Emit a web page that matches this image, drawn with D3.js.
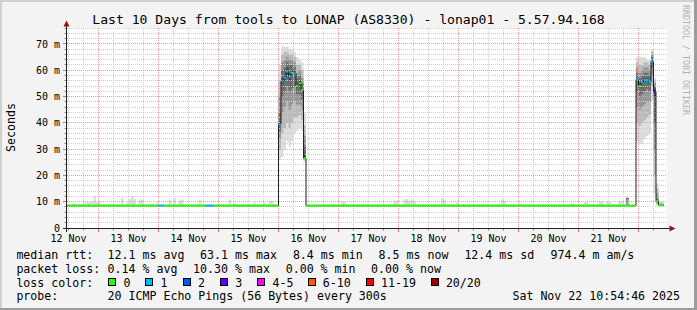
<!DOCTYPE html>
<html>
<head>
<meta charset="utf-8">
<script src="https://cdn.jsdelivr.net/npm/d3@7"></script>
<style>
body { margin: 0; background: #f3f3f3; }
svg text { font-family: "DejaVu Sans Mono", monospace; fill: #000; }
</style>
</head>
<body>
<script>
var width = 697,
    height = 310;
var plot = { left: 67, right: 667, top: 28, bottom: 228 };
var hour = 3600e3;

// ---- data (ms) ----
// the 10 day view is hourly; pings are kept as 10 sorted values per hour
var baseMedian = 8.5;
var basePings = [8.2, 8.3, 8.4, 8.4, 8.5, 8.5, 8.6, 8.7, 8.8, 8.9];
var firstHour = "2025-11-12T11:00Z",
    lastHour = "2025-11-22T09:00Z";

// little smoke bumps on the flat part: [day, hour, highest ping]
var bumps = [
    [12, 13, 9.2], [12, 14, 9.2], [12, 16, 9.3], [12, 17, 9.3], [12, 18, 9.9], [12, 19, 9.9],
    [12, 20, 9.9], [12, 21, 9.9], [12, 22, 12.2], [12, 23, 10.0], [13, 0, 9.9],
    [13, 4, 9.2], [13, 5, 9.2], [13, 9, 11.4], [13, 11, 9.6], [13, 12, 11.0], [13, 13, 12.2],
    [13, 14, 11.0], [13, 16, 10.8], [13, 17, 10.8], [13, 20, 9.2], [13, 21, 9.2], [13, 23, 9.6],
    [14, 4, 10.8], [14, 6, 11.4], [14, 8, 10.6], [14, 9, 10.8], [14, 11, 9.2], [14, 14, 9.2],
    [14, 16, 10.8], [14, 18, 9.2], [15, 1, 9.2], [15, 4, 10.8], [15, 6, 9.6], [15, 11, 9.2],
    [15, 14, 9.6], [15, 18, 9.6], [15, 20, 10.5], [15, 21, 10.5],
    [17, 1, 10.0], [17, 2, 10.0], [17, 22, 10.5], [17, 23, 10.5], [18, 2, 10.8], [18, 3, 11.0],
    [18, 4, 10.5], [18, 5, 10.8], [18, 6, 10.2], [18, 17, 11.4], [18, 18, 10.8], [18, 23, 9.8],
    [19, 17, 11.0], [19, 18, 10.5], [20, 0, 9.6], [20, 21, 9.5], [21, 2, 10.0], [21, 3, 10.0],
    [21, 8, 10.2], [21, 9, 10.2], [21, 11, 10.0], [21, 12, 10.0], [21, 16, 10.3], [21, 17, 10.3]
];
// one hour where most pings were slow but the median stayed low
var slowHours = [[21, 19, [8.4, 8.5, 8.5, 10.8, 11.2, 11.3, 11.4, 11.5, 11.5, 11.5]]];
// hours on the flat line with lost pings: [day, hour, lost of 20]
var lossHours = [[14, 0, 1], [14, 1, 1], [14, 19, 1], [14, 20, 1], [14, 21, 1]];

// episode 1, from 16 Nov 00:00
var ep1Start = "2025-11-16T00:00Z";
var ep1Median = [39.4, 56.0, 57.2, 59.5, 57.6, 59.0, 58.8, 54.1, 55.0, 52.5, 26.5];
var ep1Loss = [1, 1, 1, 1, 1, 0, 1, 0, 0, 0, 0];
var ep1Pings = [
    [26, 30, 34, 37, 39, 40, 44, 50, 56, 62],
    [27, 36, 44, 50, 55, 57, 60, 63, 66, 69],
    [30, 38, 46, 52, 56, 58, 61, 64, 67, 69],
    [33, 40, 48, 54, 58, 61, 63, 65, 67, 69],
    [31, 38, 45, 52, 56, 59, 62, 64, 66, 68],
    [33, 40, 47, 53, 58, 60, 62, 64, 66, 68],
    [36, 42, 48, 54, 58, 59.5, 61, 63, 65, 67],
    [37, 42, 47, 51, 53.5, 55, 57, 59, 62, 65],
    [38, 43, 47, 51, 54, 56, 58, 60, 62, 64],
    [37, 41, 45, 49, 52, 53, 55, 57, 60, 63],
    [25, 26, 26, 26.5, 26.5, 28, 31, 35, 39, 44]
];

// episode 2, from 21 Nov 23:00
var ep2Start = "2025-11-21T23:00Z";
var ep2Median = [56.5, 54.0, 55.4, 56.3, 56.3, 55.6, 63.3, 51.9, 10.2, 8.7, 8.7];
var ep2Loss = [1, 0, 1, 1, 1, 1, 1, 3, 0, 0, 0];
var ep2Pings = [
    [33, 40, 46, 52, 56, 57, 59, 61, 63, 65],
    [32, 39, 45, 50, 53.5, 55, 57, 59, 62, 65],
    [32, 40, 46, 51, 55, 56, 58, 60, 62, 65],
    [34, 41, 47, 52, 56, 57, 59, 61, 63, 65],
    [35, 42, 48, 53, 56, 57, 59, 61, 63, 64],
    [36, 43, 48, 52, 55, 56, 58, 60, 62, 64],
    [48, 54, 58, 61, 63, 64, 65, 66, 67, 68],
    [13, 20, 30, 40, 50, 53, 54, 55, 56, 57],
    [8.5, 9, 9.5, 10, 10.2, 10.5, 11, 13, 15, 17],
    [8.3, 8.5, 8.6, 8.7, 8.7, 8.8, 8.9, 9, 9.5, 10],
    [8.3, 8.5, 8.6, 8.7, 8.7, 8.8, 8.9, 9, 9.5, 10]
];

var yTicks = [0, 10, 20, 30, 40, 50, 60, 70];
var lossLabels = ["0", "1", "2", "3", "4-5", "6-10", "11-19", "20/20"];
var lossUpper = [0, 1, 2, 3, 5, 10, 19, 20];
var lossColors = ["#26ff00", "#00b8ff", "#0059ff", "#5e00ff", "#ff00ff", "#ff5a00", "#ff0000", "#a10000"];
var rttStats = ["12.1 ms avg", "63.1 ms max", "8.4 ms min", "8.5 ms now", "12.4 ms sd", "974.4 m am/s"];
var lossStats = ["0.14 % avg", "10.30 % max", "0.00 % min", "0.00 % now"];
var probeText = "20 ICMP Echo Pings (56 Bytes) every 300s";
var stamp = "Sat Nov 22 10:54:46 2025";
var title = "Last 10 Days from tools to LONAP (AS8330) - lonap01 - 5.57.94.168";

// ---- build hourly slots ----
var t0 = Date.parse(firstHour),
    t1 = Date.parse(lastHour);
var slots = [];
for (var t = t0; t <= t1; t += hour) {
    slots.push({ t: t, median: baseMedian, loss: 0, pings: basePings.slice() });
}
function slotAt(ms) { return slots[Math.round((ms - t0) / hour)]; }
function dh(d, h) { return Date.UTC(2025, 10, d, h); }
bumps.forEach(function (b) { slotAt(dh(b[0], b[1])).pings[9] = b[2]; });
slowHours.forEach(function (b) { slotAt(dh(b[0], b[1])).pings = b[2]; });
lossHours.forEach(function (b) { slotAt(dh(b[0], b[1])).loss = b[2]; });
function episode(startIso, med, loss, pings) {
    var s0 = Date.parse(startIso);
    med.forEach(function (m, i) {
        var s = slotAt(s0 + i * hour);
        s.median = m;
        s.loss = loss[i];
        s.pings = pings[i];
    });
}
episode(ep1Start, ep1Median, ep1Loss, ep1Pings);
episode(ep2Start, ep2Median, ep2Loss, ep2Pings);

function lossClass(n) {
    for (var i = 0; i < lossUpper.length; i++) if (n <= lossUpper[i]) return i;
    return lossUpper.length - 1;
}

// ---- scales ----
var start = Date.UTC(2025, 10, 12, 11, 24),
    end = Date.UTC(2025, 10, 22, 11, 24);
var x = d3.scaleUtc().domain([start, end]).range([plot.left, plot.right]);
var y = d3.scaleLinear().domain([0, 76.07]).range([plot.bottom, plot.top]);

var svg = d3.select("body").append("svg")
    .attr("width", width)
    .attr("height", height)
    .style("display", "block");

// background + shaded frame
svg.append("rect").attr("width", width).attr("height", height).attr("fill", "#f3f3f3");
svg.append("rect").attr("width", width).attr("height", 2).attr("fill", "#d0d0d0");
svg.append("rect").attr("width", 2).attr("height", height).attr("fill", "#d0d0d0");
svg.append("rect").attr("x", width - 3).attr("width", 3).attr("height", height).attr("fill", "#9c9c9c");
svg.append("rect").attr("y", height - 2).attr("width", width).attr("height", 2).attr("fill", "#9c9c9c");

svg.append("rect")
    .attr("x", plot.left).attr("y", plot.top)
    .attr("width", plot.right - plot.left).attr("height", plot.bottom - plot.top)
    .attr("fill", "#fff");

svg.append("clipPath").attr("id", "clip")
    .append("rect")
    .attr("x", plot.left).attr("y", plot.top)
    .attr("width", plot.right - plot.left).attr("height", plot.bottom - plot.top);

var g = svg.append("g").attr("clip-path", "url(#clip)");

// two points per hour so the areas/lines step like rrdtool
var pts = [];
slots.forEach(function (s) {
    pts.push({ x: x(s.t), s: s });
    pts.push({ x: x(s.t + hour), s: s });
});

// smoke: outer pair lightest, inner pair darkest
var shades = ["#dddddd", "#bababa", "#969696", "#6e6e6e", "#474747"];
shades.forEach(function (c, b) {
    var area = d3.area()
        .x(function (d) { return d.x; })
        .y0(function (d) { return y(d.s.pings[b]); })
        .y1(function (d) { return y(d.s.pings[9 - b]); });
    g.append("path").attr("d", area(pts)).attr("fill", c);
});

// grid (drawn over the smoke, as rrdtool does)
var grid = svg.append("g").attr("fill", "none").attr("stroke-dasharray", "1,1");
var days = d3.utcDay.range(start, end);
d3.utcHour.every(6).range(start, end).forEach(function (d) {
    if (d.getUTCHours() === 0) return;
    var px = Math.floor(x(d)) + 0.5;
    grid.append("line").attr("x1", px).attr("x2", px).attr("y1", plot.top).attr("y2", plot.bottom)
        .attr("stroke", "#cdcdcd");
});
d3.range(2, 77, 2).forEach(function (v) {
    if (v % 10 === 0) return;
    var py = Math.floor(y(v)) + 0.5;
    grid.append("line").attr("x1", plot.left).attr("x2", plot.right).attr("y1", py).attr("y2", py)
        .attr("stroke", "#cdcdcd");
});
days.forEach(function (d) {
    var px = Math.floor(x(d)) + 0.5;
    grid.append("line").attr("x1", px).attr("x2", px).attr("y1", plot.top).attr("y2", plot.bottom)
        .attr("stroke", "#f29a9a");
});
yTicks.slice(1).forEach(function (v) {
    var py = Math.floor(y(v)) + 0.5;
    grid.append("line").attr("x1", plot.left).attr("x2", plot.right).attr("y1", py).attr("y2", py)
        .attr("stroke", "#f29a9a");
});

// median: thin dark step line, then one loss coloured dash per hour
var g2 = svg.append("g").attr("clip-path", "url(#clip)").attr("fill", "none");
var medLine = d3.line()
    .x(function (d) { return d.x; })
    .y(function (d) { return y(d.s.median); });
g2.append("path").attr("d", medLine(pts)).attr("stroke", "#202020").attr("stroke-width", 1);
g2.selectAll("line.med")
    .data(slots)
    .enter().append("line")
    .attr("class", "med")
    .attr("x1", function (s) { return x(s.t); })
    .attr("x2", function (s) { return x(s.t + hour); })
    .attr("y1", function (s) { return y(s.median); })
    .attr("y2", function (s) { return y(s.median); })
    .attr("stroke", function (s) { return lossColors[lossClass(s.loss)]; })
    .attr("stroke-width", 2);

// axes
var ax = svg.append("g");
ax.append("line").attr("x1", 66.5).attr("x2", 66.5).attr("y1", 24).attr("y2", 232)
    .attr("stroke", "#222");
ax.append("line").attr("x1", 63).attr("x2", 671).attr("y1", 228.5).attr("y2", 228.5)
    .attr("stroke", "#222");
ax.append("path").attr("d", "M63.5,26.5L66.5,20.5L69.5,26.5Z").attr("fill", "#9b1111");
ax.append("path").attr("d", "M669.5,225.5L675.5,228.5L669.5,231.5Z").attr("fill", "#9b1111");

d3.range(2, 77, 2).forEach(function (v) {
    var py = Math.floor(y(v)) + 0.5;
    ax.append("line").attr("x1", v % 10 ? 64.5 : 63).attr("x2", 66).attr("y1", py).attr("y2", py)
        .attr("stroke", v % 10 ? "#888" : "#e07070");
});
d3.utcHour.every(6).range(start, end).forEach(function (d) {
    var px = Math.floor(x(d)) + 0.5;
    var major = d.getUTCHours() === 0;
    ax.append("line").attr("x1", px).attr("x2", px).attr("y1", 229).attr("y2", major ? 232 : 230.5)
        .attr("stroke", major ? "#e07070" : "#888");
});

svg.append("g").selectAll("text")
    .data(yTicks)
    .enter().append("text")
    .attr("x", 60)
    .attr("y", function (v) { return y(v) + 3.6; })
    .attr("text-anchor", "end")
    .style("font-size", "10px")
    .text(function (v) { return v === 0 ? "0" : v + " m"; });

var fmt = d3.utcFormat("%d %b");
svg.append("g").selectAll("text")
    .data(days.map(function (d) { return d3.utcHour.offset(d, -12); }))
    .enter().append("text")
    .attr("x", function (d) { return x(d); })
    .attr("y", 242)
    .attr("text-anchor", "middle")
    .style("font-size", "10px")
    .text(fmt);

svg.append("text")
    .attr("transform", "translate(15,127.5) rotate(-90)")
    .attr("text-anchor", "middle")
    .style("font-size", "11.6px")
    .text("Seconds");

svg.append("text")
    .attr("x", width / 2).attr("y", 24)
    .attr("text-anchor", "middle")
    .style("font-size", "13.1px")
    .text(title);

svg.append("text")
    .attr("transform", "translate(682.5,5) rotate(90)")
    .style("font-size", "8.3px")
    .style("fill", "#b2b2b2")
    .text("RRDTOOL / TOBI OETIKER");

// legend
var leg = svg.append("g").style("font-size", "11.6px");
var rows = [259, 272.6, 286.6, 300.3];
leg.append("text").attr("x", 16.4).attr("y", rows[0]).text("median rtt:");
leg.append("text").attr("x", 16.4).attr("y", rows[1]).text("packet loss:");
leg.append("text").attr("x", 16.4).attr("y", rows[2]).text("loss color:");
leg.append("text").attr("x", 16.4).attr("y", rows[3]).text("probe:");

var rttX = [107.6, 200.1, 292.9, 378.6, 464.4, 550.6];
rttStats.forEach(function (s, i) {
    leg.append("text").attr("x", rttX[i]).attr("y", rows[0]).text(s);
});
var lossX = [107.6, 193.1, 285.7, 371.1];
lossStats.forEach(function (s, i) {
    leg.append("text").attr("x", lossX[i]).attr("y", rows[1]).text(s);
});
var boxX = [108.4, 145.3, 182.7, 220, 257.3, 307.5, 365.8, 430.7];
lossLabels.forEach(function (l, i) {
    leg.append("rect")
        .attr("x", Math.round(boxX[i]) + 0.5).attr("y", 278.5)
        .attr("width", 7).attr("height", 7)
        .attr("fill", lossColors[i]).attr("stroke", "#000");
    leg.append("text").attr("x", boxX[i] + 15.2).attr("y", rows[2]).text(l);
});
leg.append("text").attr("x", 107.6).attr("y", rows[3]).text(probeText);
leg.append("text").attr("x", 680).attr("y", rows[3]).attr("text-anchor", "end").text(stamp);
</script>
</body>
</html>
